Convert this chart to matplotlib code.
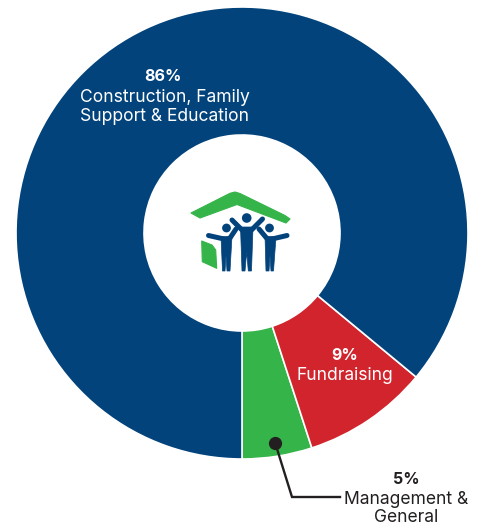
import numpy as np
import matplotlib
matplotlib.use("Agg")
import matplotlib.pyplot as plt
from matplotlib.patches import Polygon, Circle

# ---- data ----
categories = ["Management & General", "Fundraising", "Construction, Family Support & Education"]
values = [5, 9, 86]
pct_labels = ["5%", "9%", "86%"]
colors = ["#35B44A", "#D1242D", "#02437C"]

W, H = 482, 525
fig = plt.figure(figsize=(W / 100, H / 100), dpi=100)
ax = fig.add_axes([0, 0, 1, 1])

cx, cy = 242, H - 233
R = 226
ring = 128

wedges, _ = ax.pie(values, colors=colors, startangle=270, counterclock=True,
                   radius=R, center=(cx, cy),
                   wedgeprops=dict(width=ring, edgecolor="white", linewidth=1.2))
ax.set_xlim(0, W)
ax.set_ylim(0, H)
ax.set_aspect("equal")
ax.axis("off")

FONT = "Inter"
dark = "#231F20"
FS = 12.6
FSB = 11.5

def P(x, y):
    return (x, H - y)

def txt(x, y, s, color, bold=False):
    ax.text(*P(x, y), s, color=color, fontsize=FSB if bold else FS,
            fontweight="bold" if bold else "normal",
            ha="center", va="baseline", family=FONT)

# labels
txt(163, 81, pct_labels[2], "white", True)
txt(164.5, 101.5, "Construction, Family", "white")
txt(164.5, 121, "Support & Education", "white")

txt(345, 360, pct_labels[1], "white", True)
txt(345, 380.5, "Fundraising", "white")

txt(406, 484, pct_labels[0], dark, True)
txt(406.5, 503.5, "Management &", dark)
txt(406.5, 521.5, "General", dark)

# leader from green wedge
w0 = wedges[0]
mid = np.deg2rad((w0.theta1 + w0.theta2) / 2)
dx, dy = cx + 213 * np.cos(mid), cy + 213 * np.sin(mid)
ax.plot([dx, 292, 340], [dy, H - 497, H - 497], color=dark, lw=1.7,
        solid_joinstyle="miter", zorder=5)
ax.plot([dx], [dy], "o", color=dark, ms=8.5, zorder=6)

# ---- logo ----
green = "#35B44A"
navy = "#02437C"
roof = [P(191, 213), P(230, 193.3), P(235, 192), P(240, 193.5), P(285, 215.5),
        P(290, 219), P(286, 223), P(237, 204.5), P(200, 218)]
ax.add_patch(Polygon(roof, closed=True, fc=green, ec=green, lw=0.8, joinstyle="round", zorder=7))
wall = [P(201.7, 241), P(212, 245), P(215.7, 250), P(216.7, 268.3), P(202.3, 261.7)]
ax.add_patch(Polygon(wall, closed=True, fc=green, ec=green, lw=0.8, joinstyle="round", zorder=7))

def person(hx, hy, hr, body, arms):
    ax.add_patch(Circle(P(hx, hy), hr, fc=navy, ec="none", zorder=8))
    ax.add_patch(Polygon([P(*b) for b in body], closed=True, fc=navy, ec=navy,
                         lw=0.5, joinstyle="round", zorder=8))
    for (x1, y1, x2, y2) in arms:
        ax.plot([x1, x2], [H - y1, H - y2], color=navy, lw=3.6,
                solid_capstyle="round", zorder=8)

# center person
person(246.7, 218, 4.8,
       [(240.5, 227), (253, 227), (251.5, 271), (248.3, 271), (246.7, 252), (245, 271), (242, 271)],
       [(242, 230, 232, 220), (251.5, 230, 262.5, 219)])
# left person
person(226.5, 228, 4.4,
       [(221, 237), (232, 236), (230, 271), (227, 271), (226, 256), (225, 271), (222.5, 271)],
       [(224, 239, 208.5, 235.5), (230, 238, 236, 229)])
# right person
person(269.5, 228, 4.4,
       [(265, 236), (276, 237), (273.5, 271), (271, 271), (270, 256), (269, 271), (266, 271)],
       [(272, 239, 287, 235.5), (266.5, 238, 259, 229)])

fig.savefig("out.png", dpi=100)
